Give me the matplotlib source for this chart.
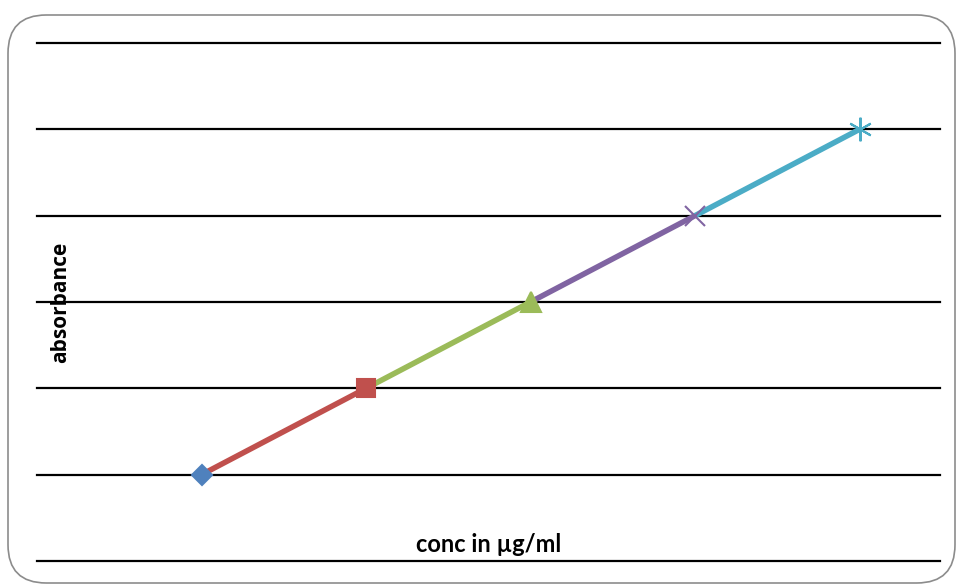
import matplotlib.pyplot as plt
from matplotlib.patches import FancyBboxPatch

# data (grid units, no tick labels in the original)
conc = [1, 2, 3, 4, 5]
absorbance = [1, 2, 3, 4, 5]
colors = ['#4F81BD', '#C0504D', '#9BBB59', '#8064A2', '#4BACC6']
markers = ['D', 's', '^', 'x', (6, 2, 0)]
msizes = [10, 13, 15, 15, 17]
grid_levels = [0, 1, 2, 3, 4, 5, 6]

fig = plt.figure(figsize=(9.57, 5.85), dpi=100)

# rounded chart border
border = FancyBboxPatch((8 / 957, 2 / 585), 947 / 957, 568 / 585,
                        boxstyle="round,pad=0,rounding_size=0.04",
                        transform=fig.transFigure, facecolor='white',
                        edgecolor='#8c8c8c', linewidth=1.2,
                        mutation_aspect=957 / 585, zorder=-1)
fig.patches.append(border)

ax = fig.add_axes([37 / 957, 1 - 561 / 585, 903 / 957, 518 / 585])
ax.set_facecolor('none')
for y in grid_levels:
    ax.axhline(y, color='black', lw=1.6, zorder=1, clip_on=False)

# each segment takes the colour of the point it ends on
for i in range(1, len(conc)):
    ax.plot(conc[i - 1:i + 1], absorbance[i - 1:i + 1], color=colors[i],
            lw=4, solid_capstyle='butt', zorder=2)
for i in range(len(conc)):
    ax.plot(conc[i], absorbance[i], marker=markers[i], ms=msizes[i],
            color=colors[i], mec=colors[i], mew=1.5, ls='none', zorder=3)

ax.set_xlim(0, 903 / 164.5)
ax.set_ylim(0, 6)
ax.set_xticks([])
ax.set_yticks([])
for s in ax.spines.values():
    s.set_visible(False)

ax.text(0.026, 0.5, 'absorbance', transform=ax.transAxes, rotation=90,
        ha='center', va='center', fontsize=15, fontweight='bold', family='Open Sans')
ax.text(0.5, 0.032, 'conc in \u00b5g/ml', transform=ax.transAxes,
        ha='center', va='center', fontsize=17, fontweight='bold', family='Lato')

fig.savefig('out.png', dpi=100)
